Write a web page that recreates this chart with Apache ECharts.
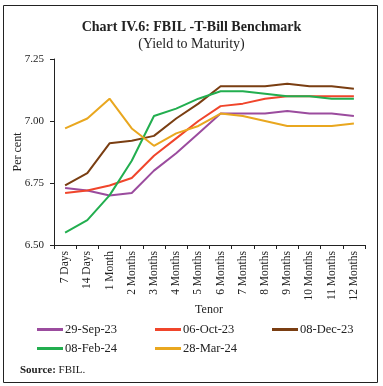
<!DOCTYPE html>
<html><head><meta charset="utf-8">
<script src="https://cdn.jsdelivr.net/npm/echarts@6/dist/echarts.min.js"></script>
<style>html,body{margin:0;padding:0;background:#fff}#c{width:383px;height:386px}</style>
</head><body><div id="c"></div>
<script>
const categories = ['7 Days','14 Days','1 Month','2 Months','3 Months','4 Months','5 Months','6 Months','7 Months','8 Months','9 Months','10 Months','11 Months','12 Months'];
const sep29 = [6.73,6.72,6.70,6.71,6.80,6.87,6.95,7.03,7.03,7.03,7.04,7.03,7.03,7.02];
const oct06 = [6.71,6.72,6.74,6.77,6.86,6.93,7.00,7.06,7.07,7.09,7.10,7.10,7.10,7.10];
const dec08 = [6.74,6.79,6.91,6.92,6.94,7.01,7.07,7.14,7.14,7.14,7.15,7.14,7.14,7.13];
const feb08 = [6.55,6.60,6.70,6.84,7.02,7.05,7.09,7.12,7.12,7.11,7.10,7.10,7.09,7.09];
const mar28 = [6.97,7.01,7.09,6.97,6.90,6.95,6.98,7.03,7.02,7.00,6.98,6.98,6.98,6.99];
const yTicks = [6.50, 6.75, 7.00, 7.25];

const FONT = '"Liberation Serif", "DejaVu Serif", serif';
const series = [
  {name:'29-Sep-23', data: sep29, color:'#9B4C9E'},
  {name:'06-Oct-23', data: oct06, color:'#F0452B'},
  {name:'08-Dec-23', data: dec08, color:'#7A3E12'},
  {name:'08-Feb-24', data: feb08, color:'#22AE4F'},
  {name:'28-Mar-24', data: mar28, color:'#E9A71F'}
];
const legendPos = [[37,323],[155,323],[272,323],[37,342],[155,342]];
const chart = echarts.init(document.getElementById('c'), null, {renderer:'canvas'});
chart.setOption({
  animation:false,
  backgroundColor:'#fff',
  title:[
    {text:'Chart IV.6: FBIL -T-Bill Benchmark', left:'center', top:15,
     textStyle:{fontFamily:FONT, fontSize:14, fontWeight:'bold', color:'#222'}},
    {text:'(Yield to Maturity)', left:'center', top:32,
     textStyle:{fontFamily:FONT, fontSize:14, fontWeight:'normal', color:'#222'}},
    {text:'{b|Source:} FBIL.', left:15, top:360,
     textStyle:{fontFamily:FONT, fontSize:11, fontWeight:'normal', color:'#222',
       rich:{b:{fontFamily:FONT, fontSize:11, fontWeight:'bold', color:'#222'}}}}
  ],
  legend: series.map((s,i)=>({
    data:[s.name], left:legendPos[i][0], top:legendPos[i][1],
    icon:'rect', itemWidth:26, itemHeight:3, itemGap:0,
    textStyle:{fontFamily:FONT, fontSize:12.5, color:'#222', padding:[0,0,0,-3]},
    padding:0
  })),
  grid:{left:54, top:59, width:311, height:186, containLabel:false},
  xAxis:{
    type:'category', data:categories, boundaryGap:true,
    axisLine:{lineStyle:{color:'#222', width:1}},
    axisTick:{show:true, alignWithLabel:false, length:4, lineStyle:{color:'#222'}},
    axisLabel:{rotate:90, fontFamily:FONT, fontSize:11.5, color:'#222', margin:6, interval:0}
  },
  yAxis:{
    type:'value', min:6.5, max:7.25, interval:0.25,
    axisLine:{show:true, lineStyle:{color:'#222', width:1}},
    axisTick:{show:true, length:4, lineStyle:{color:'#222'}},
    splitLine:{show:false},
    axisLabel:{fontFamily:FONT, fontSize:11, color:'#222', margin:10,
      formatter:v=>v.toFixed(2)}
  },
  series: series.map(s=>({
    name:s.name, type:'line', data:s.data, symbol:'none',
    lineStyle:{color:s.color, width:2}, itemStyle:{color:s.color}
  })),
  graphic:[
    {type:'rect', shape:{x:3.5,y:5.5,width:374,height:377},
     style:{fill:'none', stroke:'#222', lineWidth:1}, silent:true},
    {type:'text', x:209, y:310, style:{text:'Tenor', font:'12px '+FONT, fill:'#222',
      textAlign:'center', textVerticalAlign:'middle'}},
    {type:'text', x:18, y:152, rotation:Math.PI/2, style:{text:'Per cent', font:'12px '+FONT, fill:'#222',
      textAlign:'center', textVerticalAlign:'middle'}}
  ]
});
</script></body></html>
